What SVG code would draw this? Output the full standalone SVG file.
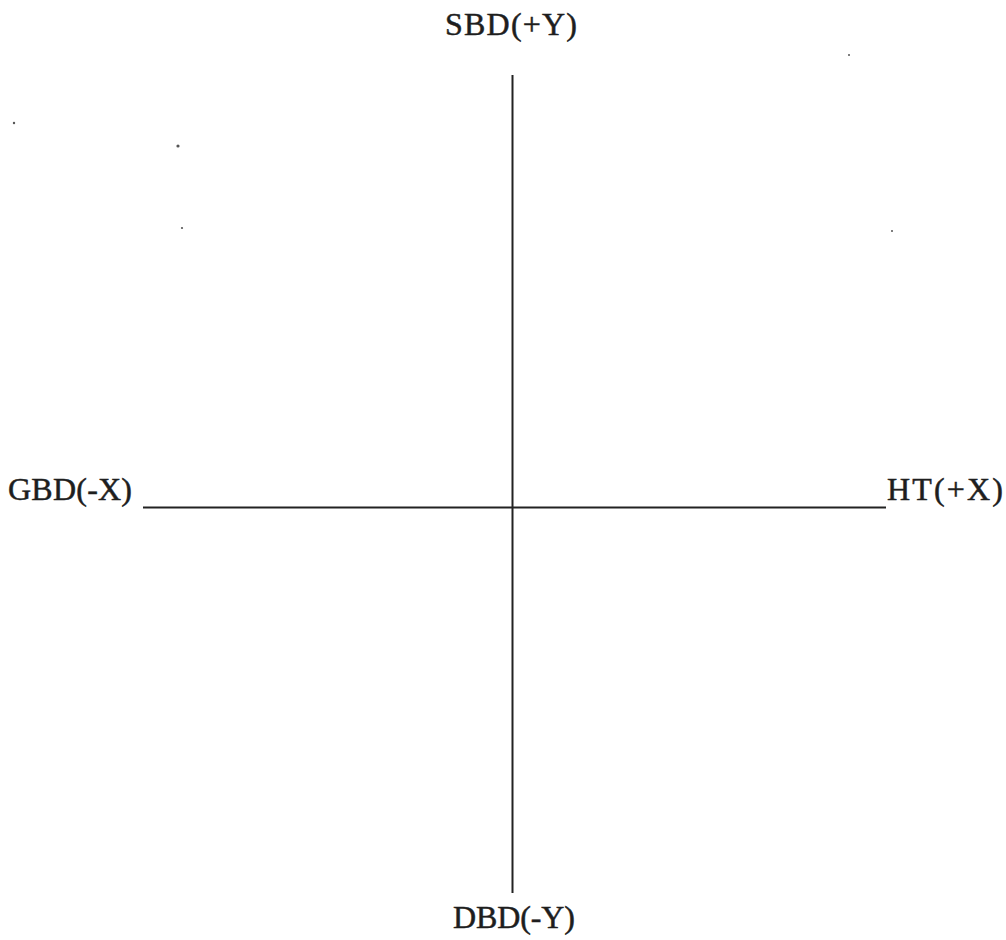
<svg xmlns="http://www.w3.org/2000/svg" width="1006" height="940" viewBox="0 0 1006 940">
  <style>
    .axis { stroke: #222; stroke-width: 2; fill: none; }
    .lbl { font-family: "Liberation Serif", "Times New Roman", serif; font-size: 32px; fill: #1e1e1e; stroke: #1e1e1e; stroke-width: 0.5; }
    .speck { fill: #555; }
  </style>
  <rect width="1006" height="940" fill="#fff"/>
  <g id="connectors">
    <line class="axis" x1="512.5" y1="75" x2="512.5" y2="893"/>
    <line class="axis" x1="143" y1="507.5" x2="886" y2="507.5"/>
  </g>
  <g id="node-sbd">
    <text class="lbl" x="445" y="35" textLength="132" lengthAdjust="spacing">SBD(+Y)</text>
  </g>
  <g id="node-gbd">
    <text class="lbl" x="8" y="500" textLength="124" lengthAdjust="spacing">GBD(-X)</text>
  </g>
  <g id="node-ht">
    <text class="lbl" x="887" y="500" textLength="116" lengthAdjust="spacing">HT(+X)</text>
  </g>
  <g id="node-dbd">
    <text class="lbl" x="453" y="928" textLength="122" lengthAdjust="spacing">DBD(-Y)</text>
  </g>
  <g id="specks">
    <circle class="speck" cx="14" cy="123" r="1.2"/>
    <circle class="speck" cx="178" cy="146" r="1.6"/>
    <circle class="speck" cx="182" cy="228" r="1.1"/>
    <circle class="speck" cx="849" cy="55" r="1"/>
    <circle class="speck" cx="892" cy="231" r="1"/>
  </g>
</svg>
